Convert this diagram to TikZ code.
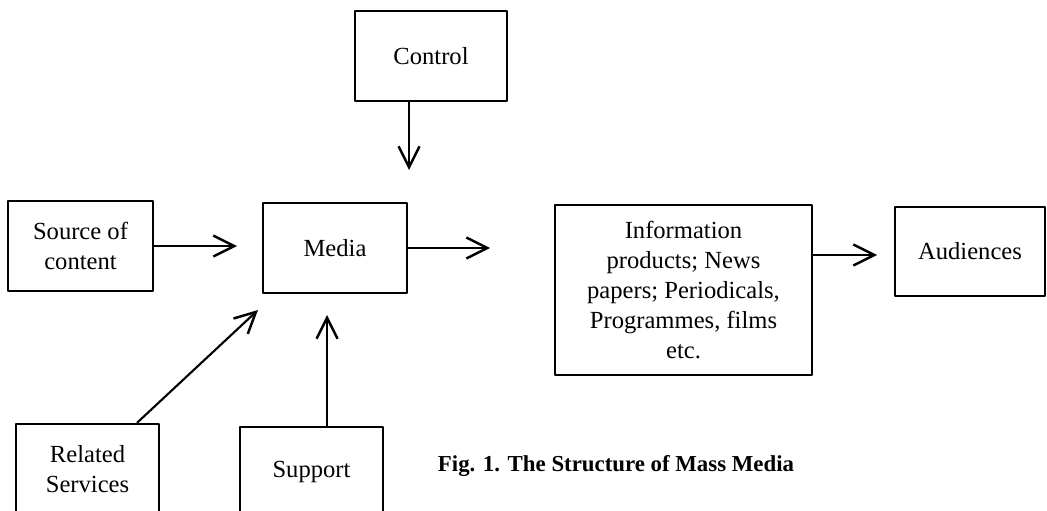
\documentclass[tikz,border=0pt]{standalone}
\usepackage{fontspec}
\setmainfont{Liberation Serif}
\usetikzlibrary{arrows.meta}
\begin{document}
\begin{tikzpicture}[x=0.02cm, y=-0.02cm, line join=round, font=\fontsize{14}{17}\selectfont,
		box/.style={draw, line width=1.3pt, align=center, inner sep=2pt},
		arr/.style={line width=1.2pt, -{Straight Barb[length=0.42cm, width=0.42cm, line width=1.4pt]}}]
			\useasboundingbox (0,0) rectangle (1047,510);
			\clip (0,0) rectangle (1047,510);
			\node[box, minimum width=3.04cm, minimum height=1.8cm] (control) at (431,56) {Control};
			\node[box, minimum width=2.9cm, minimum height=1.8cm] (source) at (80.5,246) {Source of\\content};
			\node[box, minimum width=2.88cm, minimum height=1.8cm] (media) at (335,248) {Media};
			\node[box, minimum width=5.14cm, minimum height=3.4cm] (info) at (683.5,290) {Information\\products; News\\papers; Periodicals,\\Programmes, films\\etc.};
			\node[box, minimum width=3.0cm, minimum height=1.78cm] (aud) at (970,251.5) {Audiences};
			\node[box, minimum width=2.86cm, minimum height=1.8cm] (related) at (87.5,469) {Related\\Services};
			\node[box, minimum width=2.86cm, minimum height=1.8cm] (support) at (311.5,472) {Support};
			\node[font=\fontsize{13}{16}\selectfont\bfseries] (caption) at (616,466) {Fig. 1. The Structure of Mass Media};
			% free arrow ends
			\coordinate (a1) at (409,170);
			\coordinate (a2) at (237,246);
			\coordinate (a3) at (490,248);
			\coordinate (a4) at (877,255);
			\coordinate (a5) at (258,310);
			\coordinate (a6) at (327,315);
			\draw[arr] (control.south -| a1) -- (a1);
			\draw[arr] (source.east) -- (a2);
			\draw[arr] (media.east) -- (a3);
			\draw[arr] (info.east |- a4) -- (a4);
			\draw[arr] ([xshift=0.99cm]related.north) -- (a5);
			\draw[arr] (support.north -| a6) -- (a6);
		\end{tikzpicture}
\end{document}
